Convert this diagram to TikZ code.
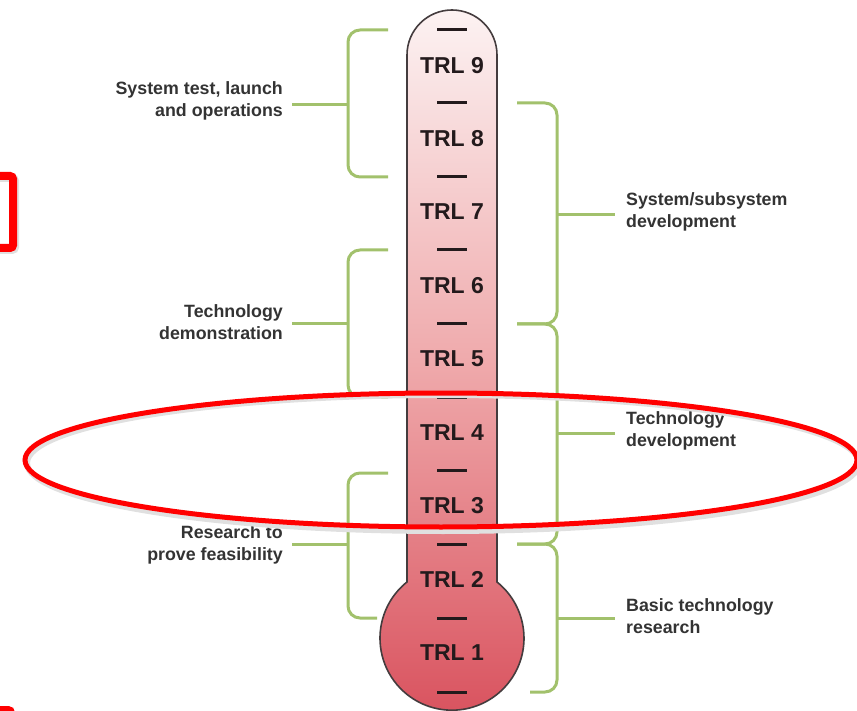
\documentclass[tikz,border=0pt]{standalone}
\usepackage{fontspec}
\setmainfont{Liberation Sans}
\begin{document}
\begin{tikzpicture}[x=1pt,y=-1pt,
  brk/.style={draw=brkgreen,line width=3pt,rounded corners=12pt},
  stub/.style={draw=brkgreen,line width=3pt},
  tick/.style={draw=tickdark,line width=3pt},
  trl/.style={font=\fontsize{23}{26}\selectfont\bfseries,text=tickdark,inner sep=0pt},
  lbl/.style={font=\fontsize{17.8}{22}\selectfont\bfseries,text=lbltext,inner sep=0pt},
  redmark/.style={draw=red,line width=5pt},
]
\definecolor{brkgreen}{HTML}{A2C16C}
\definecolor{tickdark}{HTML}{231A1C}
\definecolor{lbltext}{HTML}{333333}
\definecolor{thtop}{HTML}{FCF2F2}
\definecolor{thmid}{HTML}{EFA9AB}
\definecolor{thbot}{HTML}{D9525E}
\useasboundingbox (0,0) rectangle (857,711);

% thermometer body
\path[top color=thtop,bottom color=thbot,middle color=thmid,draw=tickdark!85,line width=1.6pt]
  (407,55) arc[start angle=180,end angle=360,radius=45]
  -- (497,582) arc[start angle=-51.3,end angle=231.3,radius=72] -- cycle;

% ticks and labels
\foreach \i/\y in {0/30,1/103,2/177,3/250,4/324,5/397,6/470,7/544,8/618,9/692}{
  \coordinate (tl\i) at (437,\y); \coordinate (tr\i) at (467,\y);
  \draw[tick] (tl\i) -- (tr\i);
}
\foreach \n/\y in {9/66,8/139,7/212,6/286,5/359,4/433,3/506,2/579,1/653}{
  \node[trl] (trl\n) at (452,\y) {TRL \n};
}

% left brackets
\coordinate (la1) at (388,30);  \coordinate (lb1) at (388,177);
\coordinate (la2) at (388,250); \coordinate (lb2) at (388,397);
\coordinate (la3) at (388,473); \coordinate (lb3) at (377,618);
\draw[brk] (la1) -- (348,30) -- (348,177) -- (lb1);
\draw[brk] (la2) -- (348,250) -- (348,397) -- (lb2);
\draw[brk] (la3) -- (348,473) -- (348,618) -- (lb3);
\node[lbl,anchor=east,align=right] (L1) at (283,101) {System test, launch\\and operations};
\node[lbl,anchor=east,align=right] (L2) at (283,322) {Technology\\demonstration};
\node[lbl,anchor=east,align=right] (L3) at (283,545) {Research to\\prove feasibility};
\draw[stub] (292,105) -- (348,105);
\draw[stub] (292,324) -- (348,324);
\draw[stub] (292,544) -- (348,544);

% right brackets
\coordinate (ra1) at (517,103); \coordinate (rb1) at (517,324);
\coordinate (ra2) at (517,324); \coordinate (rb2) at (517,544);
\coordinate (ra3) at (517,544); \coordinate (rb3) at (530,692);
\draw[brk] (ra1) -- (557,103) -- (557,324) -- (rb1);
\draw[brk] (ra2) -- (557,324) -- (557,544) -- (rb2);
\draw[brk] (ra3) -- (557,544) -- (557,692) -- (rb3);
\node[lbl,anchor=west,align=left] (R1) at (626,212) {System/subsystem\\development};
\node[lbl,anchor=west,align=left] (R2) at (626,431) {Technology\\development};
\node[lbl,anchor=west,align=left] (R3) at (626,616) {Basic technology\\research};
\draw[stub] (557,215) -- (615,215);
\draw[stub] (557,433) -- (615,433);
\draw[stub] (557,618) -- (615,618);

% red annotations
\begin{scope}
\clip (0,0) rectangle (857,711);
\draw[draw=black!12,line width=6pt] (443,463) ellipse[x radius=416,y radius=68];
\draw[redmark] (441,460) ellipse[x radius=416,y radius=67];
\draw[draw=black!12,line width=8pt,rounded corners=3pt] (-50,178) rectangle (15,250);
\draw[draw=red,line width=8pt,rounded corners=3pt] (-50,176) rectangle (13,248);
\draw[draw=red,line width=8pt,rounded corners=3pt] (-50,710) rectangle (11,760);
\end{scope}
\end{tikzpicture}
\end{document}
